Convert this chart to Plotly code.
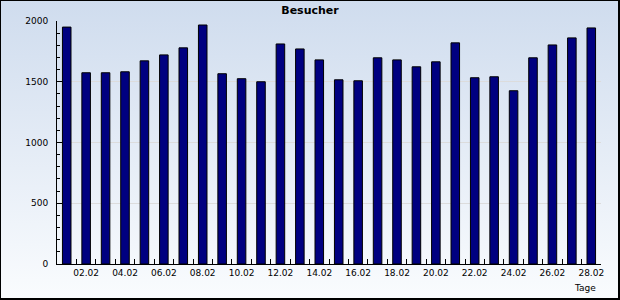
import base64
import plotly.graph_objects as go

# ---- data ----
days = ["01.02", "02.02", "03.02", "04.02", "05.02", "06.02", "07.02",
        "08.02", "09.02", "10.02", "11.02", "12.02", "13.02", "14.02",
        "15.02", "16.02", "17.02", "18.02", "19.02", "20.02", "21.02",
        "22.02", "23.02", "24.02", "25.02", "26.02", "27.02", "28.02"]
visitors = [1950, 1574, 1574, 1582, 1672, 1721, 1779,
            1967, 1566, 1525, 1500, 1811, 1770, 1680,
            1516, 1508, 1697, 1680, 1623, 1664, 1820,
            1533, 1541, 1426, 1697, 1803, 1861, 1943]
tick_text = [d if i % 2 == 1 else "" for i, d in enumerate(days)]
y_ticks = [0, 500, 1000, 1500, 2000]

W, H = 620, 300
ML, MR, MT, MB = 57, 19, 21, 36
PW, PH = W - ML - MR, H - MT - MB

svg = (
    "<svg xmlns='http://www.w3.org/2000/svg' width='620' height='300' "
    "viewBox='0 0 620 300' preserveAspectRatio='none'>"
    "<defs><linearGradient id='g' x1='0' y1='0' x2='0' y2='1'>"
    "<stop offset='0' stop-color='#cfdcee'/>"
    "<stop offset='1' stop-color='#fafcfe'/>"
    "</linearGradient></defs>"
    "<rect width='620' height='300' fill='url(#g)'/>"
    "<rect x='0' y='0' width='1' height='300' fill='black'/>"
    "<rect x='0' y='0' width='620' height='1' fill='black'/>"
    "<rect x='618' y='0' width='2' height='300' fill='black'/>"
    "<rect x='0' y='298' width='620' height='2' fill='black'/>"
    "</svg>"
)
src = "data:image/svg+xml;base64," + base64.b64encode(svg.encode()).decode()

fig = go.Figure(go.Bar(
    x=days, y=visitors,
    marker=dict(color="#000080", line=dict(color="black", width=1)),
))

tick_font = dict(family="DejaVu Sans", size=9, color="black")

fig.update_layout(
    width=W, height=H,
    margin=dict(l=ML, r=MR, t=MT, b=MB, pad=0),
    paper_bgcolor="white",
    plot_bgcolor="rgba(0,0,0,0)",
    bargap=0.56,
    showlegend=False,
    title=dict(text="Besucher", x=0.5, xanchor="center", xref="container",
               y=1 - 10 / H, yanchor="middle", yref="container",
               font=dict(family="DejaVu Sans", size=11, color="black", weight="bold")),
    images=[dict(source=src, xref="paper", yref="paper",
                 x=-ML / PW, y=1 + MT / PH, sizex=W / PW, sizey=H / PH,
                 xanchor="left", yanchor="top", sizing="stretch", layer="below")],
    xaxis=dict(
        type="category", range=[-0.5, len(days) - 0.5],
        tickmode="array", tickvals=days, ticktext=tick_text, tickangle=0,
        tickson="boundaries", ticks="inside", ticklen=5, tickcolor="black",
        showline=True, linecolor="black", linewidth=1,
        showgrid=False, zeroline=False, tickfont=tick_font,
    ),
    yaxis=dict(
        range=[0, 2000], tickmode="array", tickvals=y_ticks,
        ticks="inside", ticklen=5, tickcolor="black",
        minor=dict(dtick=100, ticks="inside", ticklen=3, tickcolor="black", showgrid=False),
        showline=True, linecolor="black", linewidth=1,
        showgrid=True, gridcolor="#dcdcdc", gridwidth=1,
        zeroline=False, tickfont=tick_font, ticklabelstandoff=6,
    ),
    annotations=[dict(text="Tage", xref="paper", yref="paper",
                      x=(598 - ML) / PW, y=-23.5 / PH, xanchor="right", yanchor="middle",
                      showarrow=False, font=dict(family="DejaVu Sans", size=9, color="black"))],
)

fig.write_html("out.html")
